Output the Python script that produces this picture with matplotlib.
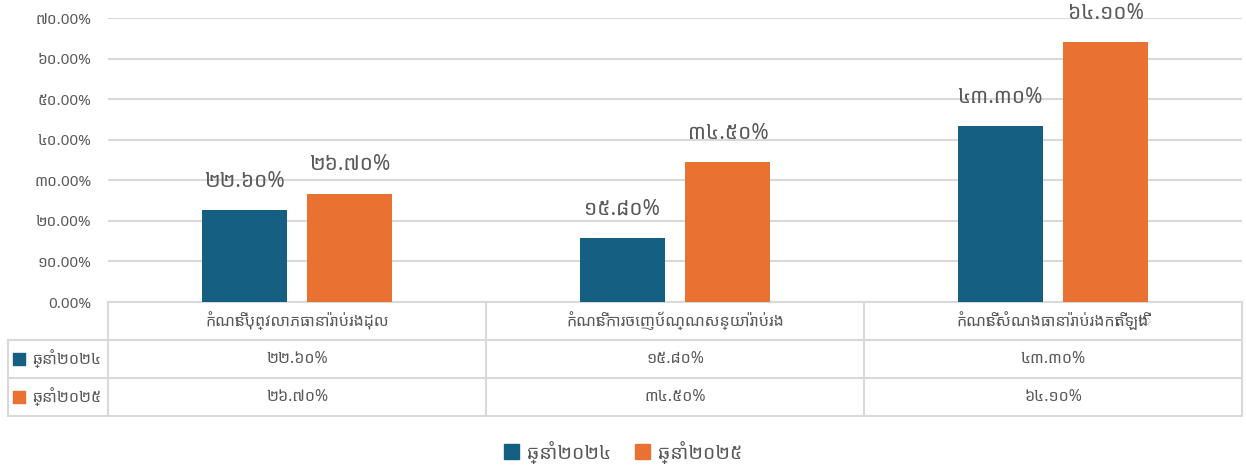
import numpy as np
import matplotlib.pyplot as plt
from matplotlib.patches import Patch

plt.rcParams['font.family'] = ['Noto Sans Khmer', 'Open Sans', 'DejaVu Sans']

# --- data ---
categories = ["កំណើនបុព្វលាភធានារ៉ាប់រងដុល",
              "កំណើនការចេញប័ណ្ណសន្យារ៉ាប់រង",
              "កំណើនសំណងធានារ៉ាប់រងកើតឡើង"]
series_names = ["ឆ្នាំ២០២៤", "ឆ្នាំ២០២៥"]
vals_2024 = [22.6, 15.8, 43.3]
vals_2025 = [26.7, 34.5, 64.1]
labels_2024 = ["២២.៦០%", "១៥.៨០%", "៤៣.៣០%"]
labels_2025 = ["២៦.៧០%", "៣៤.៥០%", "៦៤.១០%"]
yticks = [0, 10, 20, 30, 40, 50, 60, 70]
ytick_labels = ["0.00%", "១០.00%", "២០.00%", "៣០.00%", "៤០.00%",
                "៥០.00%", "៦០.00%", "៧០.00%"]

blue = "#156082"
orange = "#E97132"
grid_c = "#D9D9D9"
txt_c = "#595959"

fig = plt.figure(figsize=(12.46, 4.71), dpi=100)
ax = fig.add_axes([108 / 1246, 1 - 302 / 471, 1134 / 1246, 284 / 471])

x = np.arange(len(categories))
w = 0.225
off = 0.14
ax.bar(x - off, vals_2024, w, color=blue, zorder=3)
ax.bar(x + off, vals_2025, w, color=orange, zorder=3)

for xi, v, lab in zip(x - off, vals_2024, labels_2024):
    ax.text(xi, v + 7.1, lab, ha="center", va="center", fontsize=15, color=txt_c)
for xi, v, lab in zip(x + off, vals_2025, labels_2025):
    ax.text(xi, v + 7.1, lab, ha="center", va="center", fontsize=15, color=txt_c)

ax.set_xlim(-0.5, 2.5)
ax.set_ylim(0, 70)
ax.set_yticks(yticks)
ax.set_yticklabels(ytick_labels, fontsize=11, color=txt_c)
ax.tick_params(axis="y", length=0, pad=12)
ax.set_xticks([])
ax.yaxis.grid(True, color=grid_c, linewidth=1.5, zorder=0)
for s in ax.spines.values():
    s.set_visible(False)

# --- data table below the plot ---
tr = ax.get_xaxis_transform()
row_h = 38 / 284
y_rows = [0, -row_h, -2 * row_h, -3 * row_h]
x_left = -0.5 - 100 / 378  # left edge of the label column, in data units
lkw = dict(color=grid_c, linewidth=1.5, transform=tr, clip_on=False)

ax.plot([-0.5, 2.5], [0, 0], **lkw)
for yy in y_rows[1:]:
    ax.plot([x_left, 2.5], [yy, yy], **lkw)
for xx in [-0.5, 0.5, 1.5, 2.5]:
    ax.plot([xx, xx], [0, y_rows[-1]], **lkw)
ax.plot([x_left, x_left], [y_rows[1], y_rows[-1]], **lkw)

for xi, cat in zip(x, categories):
    ax.text(xi, -row_h / 2, cat, ha="center", va="center", fontsize=11.5,
            color=txt_c, transform=tr)
rows = [labels_2024, labels_2025]
colors = [blue, orange]
for r, (name, labs, col) in enumerate(zip(series_names, rows, colors)):
    yc = -(r + 1.5) * row_h
    ax.scatter([x_left + 0.03], [yc], marker="s", s=75, color=col,
               transform=tr, clip_on=False)
    ax.text(x_left + 0.064, yc, name, ha="left", va="center", fontsize=11.5,
            color=txt_c, transform=tr)
    for xi, lab in zip(x, labs):
        ax.text(xi, yc, lab, ha="center", va="center", fontsize=11.5,
                color=txt_c, transform=tr)

handles = [Patch(color=blue), Patch(color=orange)]
fig.legend(handles, series_names, loc="center", bbox_to_anchor=(0.5, 1 - 452 / 471),
           ncol=2, frameon=False, fontsize=14, handlelength=0.8, handleheight=0.8,
           handletextpad=0.4, columnspacing=1.2, labelcolor=txt_c)

plt.savefig("out.png", dpi=100)
